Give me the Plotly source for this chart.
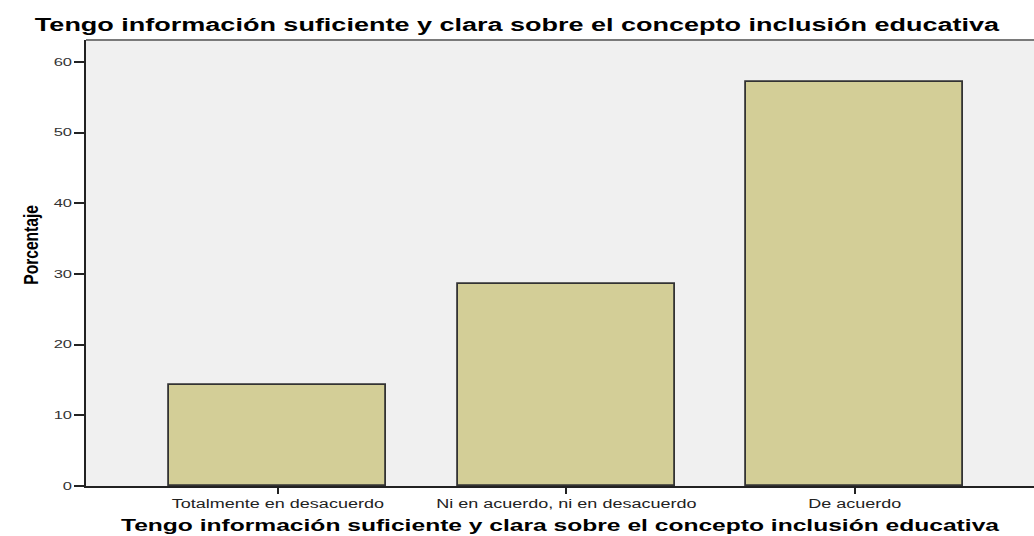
import plotly.graph_objects as go

# Survey item and response distribution (percent of respondents)
item = "Tengo información suficiente y clara sobre el concepto inclusión educativa"
categories = ["Totalmente en desacuerdo", "Ni en acuerdo, ni en desacuerdo", "De acuerdo"]
percentages = [14.29, 28.57, 57.14]
y_ticks = [0, 10, 20, 30, 40, 50, 60]

W, H = 1034, 536
ML, MR, MT, MB = 86, 0, 40, 50
SANS = "Liberation Sans, Arial, sans-serif"

fig = go.Figure(
    go.Bar(
        x=categories,
        y=percentages,
        width=0.752,
        marker=dict(color="#d3ce97", line=dict(color="#333333", width=1.8)),
        hoverinfo="x+y",
    )
)

fig.update_layout(
    width=W,
    height=H,
    margin=dict(l=ML, r=MR, t=MT, b=MB),
    paper_bgcolor="white",
    plot_bgcolor="#f0f0f0",
    showlegend=False,
    bargap=0,
    title=dict(
        text=item,
        x=0.5,
        xref="container",
        xanchor="center",
        y=1 - 25 / H,
        yref="container",
        yanchor="middle",
        font=dict(family=SANS, size=18, weight="bold", color="black"),
    ),
    font=dict(family=SANS, color="#222"),
)

fig.update_xaxes(
    range=[-0.665, 2.621],
    showgrid=False,
    zeroline=False,
    showline=True,
    linecolor="#222",
    linewidth=1.5,
    ticks="outside",
    ticklen=6,
    tickwidth=1.5,
    tickcolor="#222",
    tickfont=dict(family=SANS, size=12, color="#222"),
    title=dict(
        text=item,
        font=dict(family=SANS, size=16.4, weight="bold", color="black"),
        standoff=9,
    ),
)

fig.update_yaxes(
    range=[0, 63.1],
    tickvals=y_ticks,
    showgrid=False,
    zeroline=False,
    showline=True,
    linecolor="#222",
    linewidth=1.5,
    ticks="outside",
    ticklen=10,
    tickwidth=1.5,
    tickcolor="#222",
    tickfont=dict(family=SANS, size=11, color="#333"),
)

# Y-axis title, drawn tall and compressed along its length
fig.add_annotation(
    text="Porcentaje",
    xref="paper",
    yref="paper",
    x=-(ML - 31) / (W - ML - MR),
    y=(486 - 245) / (486 - 40),
    xanchor="center",
    yanchor="middle",
    textangle=-90,
    showarrow=False,
    font=dict(family=SANS, size=20, weight="bold", color="black"),
)

# Thin gray frame line along the top of the plot area
fig.add_shape(
    type="line",
    xref="paper",
    yref="paper",
    x0=0,
    x1=1,
    y0=1,
    y1=1,
    line=dict(color="#7a7a7a", width=2),
)

# Horizontal texts are widened and the rotated axis title is narrowed,
# using SVG textLength so everything stays live text
reshape_js = """
var gd = document.getElementById('{plot_id}');
function fit(sel, factor) {
  gd.querySelectorAll(sel).forEach(function (t) {
    if (!t.dataset.baseLen) { t.dataset.baseLen = t.getComputedTextLength(); }
    t.setAttribute('lengthAdjust', 'spacingAndGlyphs');
    t.setAttribute('textLength', parseFloat(t.dataset.baseLen) * factor);
  });
}
function reshape() {
  fit('.gtitle, .g-xtitle text, .xtick text, .ytick text', 1.5);
  fit('.annotation-text', 0.78);
}
reshape();
gd.on('plotly_afterplot', reshape);
"""

fig.write_html("out.html", post_script=reshape_js)
